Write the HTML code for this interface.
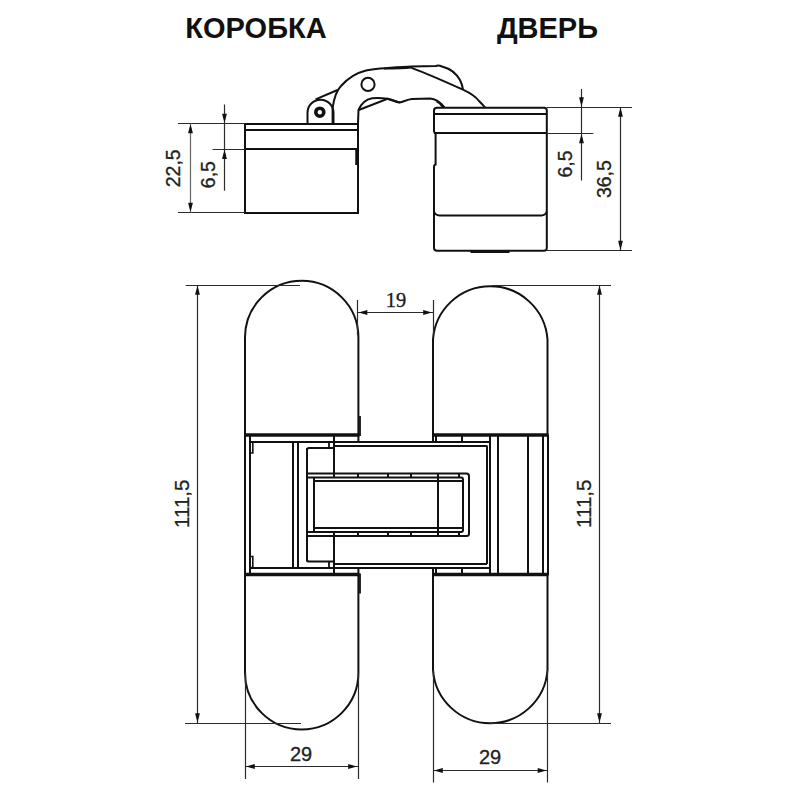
<!DOCTYPE html>
<html><head><meta charset="utf-8"><style>
html,body{margin:0;padding:0;background:#fff;width:800px;height:800px;overflow:hidden}
svg{display:block}
</style></head><body>
<svg width="800" height="800" viewBox="0 0 800 800">
<rect width="800" height="800" fill="#fff"/>
<text x="256" y="38" font-family="Liberation Sans" font-size="29" font-weight="bold" text-anchor="middle" fill="#111">КОРОБКА</text>
<text x="547.5" y="38.2" font-family="Liberation Sans" font-size="29" font-weight="bold" text-anchor="middle" fill="#111">ДВЕРЬ</text>
<path d="M245,124 L358,124 L358,213 L245,213 Z" stroke="#111" stroke-width="2" fill="none" />
<line x1="245" y1="130" x2="358" y2="130" stroke="#111" stroke-width="2"/>
<line x1="245" y1="149" x2="358" y2="149" stroke="#111" stroke-width="2"/>
<line x1="356.5" y1="150" x2="356.5" y2="165" stroke="#111" stroke-width="2.5"/>
<line x1="178" y1="123.5" x2="245" y2="123.5" stroke="#2b2b2b" stroke-width="1.2"/>
<line x1="212.5" y1="149.5" x2="245" y2="149.5" stroke="#2b2b2b" stroke-width="1.2"/>
<line x1="178" y1="212.5" x2="245" y2="212.5" stroke="#2b2b2b" stroke-width="1.2"/>
<line x1="190.5" y1="123.5" x2="190.5" y2="212.5" stroke="#666" stroke-width="1.2"/>
<polygon points="190.50,124.50 191.60,128.00 192.90,133.30 188.10,133.30 189.40,128.00" fill="#111"/>
<polygon points="190.50,211.50 191.60,208.00 192.90,202.70 188.10,202.70 189.40,208.00" fill="#111"/>
<line x1="224.5" y1="104.5" x2="224.5" y2="190.7" stroke="#2b2b2b" stroke-width="1.2"/>
<polygon points="224.50,122.50 225.60,119.00 226.90,113.70 222.10,113.70 223.40,119.00" fill="#111"/>
<polygon points="224.50,150.20 225.60,153.70 226.90,159.00 222.10,159.00 223.40,153.70" fill="#111"/>
<text transform="translate(179.9,168.3) rotate(-90)" font-family="Liberation Sans" font-size="19.5" font-weight="normal" text-anchor="middle" fill="#222" stroke="#222" stroke-width="0.3">22,5</text>
<text transform="translate(215,174.6) rotate(-90)" font-family="Liberation Sans" font-size="19.5" font-weight="normal" text-anchor="middle" fill="#222" stroke="#222" stroke-width="0.3">6,5</text>
<path d="M307.5,123.5 L307.5,112.7 A13,13 0 0 1 333.5,112.7 L333.5,123.5" stroke="#111" stroke-width="2" fill="none" />
<circle cx="319.8" cy="112.2" r="4.0" stroke="#111" stroke-width="3.6" fill="none"/>
<line x1="315.6" y1="99.4" x2="337.5" y2="90" stroke="#111" stroke-width="2"/>
<path d="M332.6,123.5 L332.6,108 C334,98 337,90 341,86 C348,78 356,73 366,70.5 C378,68 395,67.5 411,66.6 L436,66 C438,65 440,65.6 442,66.5 C450,68.5 456,73 460,80 C462.5,85 462.8,88 463,90" stroke="#111" stroke-width="2" fill="none" />
<path d="M384,68.6 C395,68.6 403,68.6 411,67.6" stroke="#111" stroke-width="2" fill="none" />
<circle cx="368" cy="84.4" r="6.6" stroke="#111" stroke-width="2" fill="none"/>
<path d="M411,67.6 C428,74 446,82 463,89.7 C470,93 476,97 479,101 C482,104 484,106 485,107.5" stroke="#111" stroke-width="2" fill="none" />
<path d="M358,123.5 L358.5,110 C361,104 365,99.5 372,98.2 C378,97.5 383,98 387.5,98.7 C392,100 396,102 399.5,102.5 C404,101.5 407,99.5 412,99 L430,98.6 C436,99 440,102 444.5,107.5" stroke="#111" stroke-width="2" fill="none" />
<path d="M358.75,110 L387.5,98.75 C392,99.5 396,101.5 400,102.5" stroke="#111" stroke-width="2" fill="none" />
<path d="M437,107.8 L544,107.8 Q546.8,107.8 546.8,110.5 L546.8,248 Q546.8,250.7 544,250.7 L437,250.7 Q434,250.7 434,248 L434,166.5 Q434,165 435.6,164.5 L435.6,133.1 Q434,133.1 434,130.5 L434,110.5 Q434,107.8 437,107.8 Z" stroke="#111" stroke-width="2" fill="none" />
<path d="M436.5,101.5 Q440.5,103 443,107.5" stroke="#111" stroke-width="1.6" fill="none" />
<line x1="434" y1="114" x2="546.8" y2="114" stroke="#111" stroke-width="2"/>
<line x1="434" y1="133" x2="546.8" y2="133" stroke="#111" stroke-width="2"/>
<path d="M434,211.5 Q435.5,215.4 439.5,215.4 L541.5,215.4 Q545.3,215.4 546.8,211.5" stroke="#111" stroke-width="2" fill="none" />
<line x1="470.5" y1="251.8" x2="509.5" y2="251.8" stroke="#111" stroke-width="2.4"/>
<line x1="546.8" y1="107.5" x2="632" y2="107.5" stroke="#2b2b2b" stroke-width="1.2"/>
<line x1="546.8" y1="133.5" x2="593.4" y2="133.5" stroke="#2b2b2b" stroke-width="1.2"/>
<line x1="546.8" y1="250.5" x2="632" y2="250.5" stroke="#2b2b2b" stroke-width="1.2"/>
<line x1="581.5" y1="89" x2="581.5" y2="180.5" stroke="#2b2b2b" stroke-width="1.2"/>
<polygon points="581.50,106.00 582.60,102.50 583.90,97.20 579.10,97.20 580.40,102.50" fill="#111"/>
<polygon points="581.50,134.40 582.60,137.90 583.90,143.20 579.10,143.20 580.40,137.90" fill="#111"/>
<line x1="620.5" y1="107" x2="620.5" y2="250.5" stroke="#2b2b2b" stroke-width="1.2"/>
<polygon points="620.50,108.00 621.60,111.50 622.90,116.80 618.10,116.80 619.40,111.50" fill="#111"/>
<polygon points="620.50,249.50 621.60,246.00 622.90,240.70 618.10,240.70 619.40,246.00" fill="#111"/>
<text transform="translate(571.5,164) rotate(-90)" font-family="Liberation Sans" font-size="19.5" font-weight="normal" text-anchor="middle" fill="#222" stroke="#222" stroke-width="0.3">6,5</text>
<text transform="translate(610.7,179.1) rotate(-90)" font-family="Liberation Sans" font-size="19.5" font-weight="normal" text-anchor="middle" fill="#222" stroke="#222" stroke-width="0.3">36,5</text>
<path d="M245,435 L245,337.5 A56.7,56.7 0 0 1 358.4,337.5 L358.4,442" stroke="#111" stroke-width="2" fill="none" />
<path d="M245,575 L245,672.8 A56.7,56.7 0 0 0 358.4,672.8 L358.4,567.5" stroke="#111" stroke-width="2" fill="none" />
<line x1="245" y1="435" x2="245" y2="575" stroke="#111" stroke-width="2"/>
<line x1="360" y1="416" x2="360" y2="436" stroke="#111" stroke-width="1.8"/>
<line x1="360" y1="573.5" x2="360" y2="593.5" stroke="#111" stroke-width="1.8"/>
<path d="M433,442 L433,339.5 A57.4,57.4 0 0 1 547.5,339.5 L547.5,435" stroke="#111" stroke-width="2" fill="none" />
<path d="M433,567.5 L433,670 A57.4,57.4 0 0 0 547.5,670 L547.5,575" stroke="#111" stroke-width="2" fill="none" />
<line x1="548" y1="435" x2="548" y2="575" stroke="#111" stroke-width="2"/>
<line x1="245" y1="435" x2="359.4" y2="435" stroke="#111" stroke-width="3.4"/>
<line x1="245" y1="574.5" x2="359.4" y2="574.5" stroke="#111" stroke-width="3.4"/>
<line x1="433" y1="435" x2="548.5" y2="435" stroke="#111" stroke-width="3.4"/>
<line x1="433" y1="574.5" x2="548.5" y2="574.5" stroke="#111" stroke-width="3.4"/>
<line x1="250" y1="435" x2="250" y2="574.5" stroke="#111" stroke-width="2"/>
<line x1="250" y1="442" x2="490.5" y2="442" stroke="#111" stroke-width="2"/>
<line x1="250" y1="568" x2="490.5" y2="568" stroke="#111" stroke-width="2"/>
<line x1="334" y1="446" x2="487" y2="446" stroke="#111" stroke-width="2"/>
<line x1="334" y1="564" x2="487" y2="564" stroke="#111" stroke-width="2"/>
<path d="M250,442 L252.8,442 L252.8,453 L250,453" stroke="#111" stroke-width="1.6" fill="none" />
<path d="M250,567.5 L252.8,567.5 L252.8,556.5 L250,556.5" stroke="#111" stroke-width="1.6" fill="none" />
<line x1="293" y1="441.9" x2="293" y2="567.6" stroke="#111" stroke-width="2"/>
<line x1="298" y1="441.9" x2="298" y2="567.6" stroke="#111" stroke-width="2"/>
<path d="M307,473.5 L307,450 Q307,447.9 309,447.9 L333,447.9" stroke="#111" stroke-width="2" fill="none" />
<path d="M307,536.0 L307,559.5 Q307,561.6 309,561.6 L333,561.6" stroke="#111" stroke-width="2" fill="none" />
<line x1="334" y1="435" x2="334" y2="473.5" stroke="#111" stroke-width="2"/>
<line x1="334" y1="574.5" x2="334" y2="536.0" stroke="#111" stroke-width="2"/>
<line x1="329" y1="441.9" x2="329" y2="447.9" stroke="#111" stroke-width="1.8"/>
<line x1="329" y1="567.6" x2="329" y2="561.6" stroke="#111" stroke-width="1.8"/>
<line x1="307" y1="447.9" x2="307" y2="561.6" stroke="#111" stroke-width="2"/>
<line x1="436" y1="435" x2="436" y2="441.9" stroke="#111" stroke-width="2"/>
<line x1="436" y1="574.5" x2="436" y2="567.6" stroke="#111" stroke-width="2"/>
<line x1="462" y1="435" x2="462" y2="441.9" stroke="#111" stroke-width="2"/>
<line x1="462" y1="574.5" x2="462" y2="567.6" stroke="#111" stroke-width="2"/>
<line x1="487" y1="445.6" x2="487" y2="563.9" stroke="#111" stroke-width="2"/>
<line x1="490" y1="435" x2="490" y2="574.5" stroke="#111" stroke-width="2"/>
<line x1="498" y1="435" x2="498" y2="574.5" stroke="#111" stroke-width="2"/>
<line x1="528" y1="435" x2="528" y2="574.5" stroke="#111" stroke-width="2"/>
<line x1="543" y1="435" x2="543" y2="574.5" stroke="#111" stroke-width="2"/>
<path d="M307,473.5 L466.5,473.5 Q469,473.5 469,476 L469,533.5 Q469,536.0 466.5,536.0 L307,536.0" stroke="#111" stroke-width="2" fill="none" />
<path d="M307,477.4 L461,477.4 Q463,477.4 463,479.4 L463,530.1 Q463,532.1 461,532.1 L307,532.1" stroke="#111" stroke-width="2" fill="none" />
<line x1="314" y1="481" x2="463" y2="481" stroke="#111" stroke-width="2"/>
<line x1="314" y1="528" x2="463" y2="528" stroke="#111" stroke-width="2"/>
<line x1="314" y1="477.4" x2="314" y2="532.1" stroke="#111" stroke-width="2"/>
<line x1="438" y1="473.5" x2="438" y2="536.0" stroke="#111" stroke-width="2"/>
<line x1="334" y1="473.5" x2="334" y2="477.4" stroke="#111" stroke-width="2"/>
<line x1="334" y1="536.0" x2="334" y2="532.1" stroke="#111" stroke-width="2"/>
<line x1="358" y1="473.5" x2="358" y2="477.4" stroke="#111" stroke-width="2"/>
<line x1="358" y1="536.0" x2="358" y2="532.1" stroke="#111" stroke-width="2"/>
<line x1="388" y1="473.5" x2="388" y2="477.4" stroke="#111" stroke-width="2"/>
<line x1="388" y1="536.0" x2="388" y2="532.1" stroke="#111" stroke-width="2"/>
<line x1="411" y1="473.5" x2="411" y2="477.4" stroke="#111" stroke-width="2"/>
<line x1="411" y1="536.0" x2="411" y2="532.1" stroke="#111" stroke-width="2"/>
<line x1="459" y1="473.5" x2="459" y2="477.4" stroke="#111" stroke-width="2"/>
<line x1="459" y1="536.0" x2="459" y2="532.1" stroke="#111" stroke-width="2"/>
<line x1="357.5" y1="300" x2="357.5" y2="335" stroke="#2b2b2b" stroke-width="1.2"/>
<line x1="433.5" y1="300" x2="433.5" y2="335" stroke="#2b2b2b" stroke-width="1.2"/>
<line x1="357.5" y1="312.5" x2="433" y2="312.5" stroke="#2b2b2b" stroke-width="1.2"/>
<polygon points="358.50,312.50 362.00,313.60 367.30,314.90 367.30,310.10 362.00,311.40" fill="#111"/>
<polygon points="432.00,312.50 428.50,313.60 423.20,314.90 423.20,310.10 428.50,311.40" fill="#111"/>
<text x="396" y="307" font-family="Liberation Serif" font-size="20.5" font-weight="normal" text-anchor="middle" fill="#1a1a1a" stroke="#1a1a1a" stroke-width="0.3">19</text>
<line x1="185.7" y1="285.5" x2="300" y2="285.5" stroke="#2b2b2b" stroke-width="1.2"/>
<line x1="185" y1="723.5" x2="301" y2="723.5" stroke="#2b2b2b" stroke-width="1.2"/>
<line x1="197.5" y1="285" x2="197.5" y2="723" stroke="#2b2b2b" stroke-width="1.2"/>
<polygon points="197.50,286.00 198.60,289.50 199.90,294.80 195.10,294.80 196.40,289.50" fill="#111"/>
<polygon points="197.50,722.00 198.60,718.50 199.90,713.20 195.10,713.20 196.40,718.50" fill="#111"/>
<text transform="translate(188.8,503.75) rotate(-90)" font-family="Liberation Sans" font-size="20.5" font-weight="normal" text-anchor="middle" fill="#222" stroke="#222" stroke-width="0.3">111,5</text>
<line x1="492" y1="285.5" x2="611" y2="285.5" stroke="#2b2b2b" stroke-width="1.2"/>
<line x1="490" y1="723.5" x2="611" y2="723.5" stroke="#2b2b2b" stroke-width="1.2"/>
<line x1="599.5" y1="285" x2="599.5" y2="723" stroke="#2b2b2b" stroke-width="1.2"/>
<polygon points="599.50,286.00 600.60,289.50 601.90,294.80 597.10,294.80 598.40,289.50" fill="#111"/>
<polygon points="599.50,722.00 600.60,718.50 601.90,713.20 597.10,713.20 598.40,718.50" fill="#111"/>
<text transform="translate(591.2,503.75) rotate(-90)" font-family="Liberation Sans" font-size="20.5" font-weight="normal" text-anchor="middle" fill="#222" stroke="#222" stroke-width="0.3">111,5</text>
<line x1="245.5" y1="673" x2="245.5" y2="779" stroke="#2b2b2b" stroke-width="1.2"/>
<line x1="358.5" y1="673" x2="358.5" y2="779" stroke="#2b2b2b" stroke-width="1.2"/>
<line x1="245" y1="766.5" x2="358" y2="766.5" stroke="#2b2b2b" stroke-width="1.2"/>
<polygon points="246.00,766.50 249.50,767.60 254.80,768.90 254.80,764.10 249.50,765.40" fill="#111"/>
<polygon points="357.00,766.50 353.50,767.60 348.20,768.90 348.20,764.10 353.50,765.40" fill="#111"/>
<text x="301" y="760.6" font-family="Liberation Sans" font-size="20" font-weight="normal" text-anchor="middle" fill="#222" stroke="#222" stroke-width="0.3">29</text>
<line x1="433.5" y1="670" x2="433.5" y2="782.5" stroke="#2b2b2b" stroke-width="1.2"/>
<line x1="547.5" y1="670" x2="547.5" y2="782.5" stroke="#2b2b2b" stroke-width="1.2"/>
<line x1="433" y1="770.5" x2="547.5" y2="770.5" stroke="#2b2b2b" stroke-width="1.2"/>
<polygon points="434.00,770.50 437.50,771.60 442.80,772.90 442.80,768.10 437.50,769.40" fill="#111"/>
<polygon points="546.50,770.50 543.00,771.60 537.70,772.90 537.70,768.10 543.00,769.40" fill="#111"/>
<text x="490" y="763.8" font-family="Liberation Sans" font-size="20" font-weight="normal" text-anchor="middle" fill="#222" stroke="#222" stroke-width="0.3">29</text>
</svg>
</body></html>
